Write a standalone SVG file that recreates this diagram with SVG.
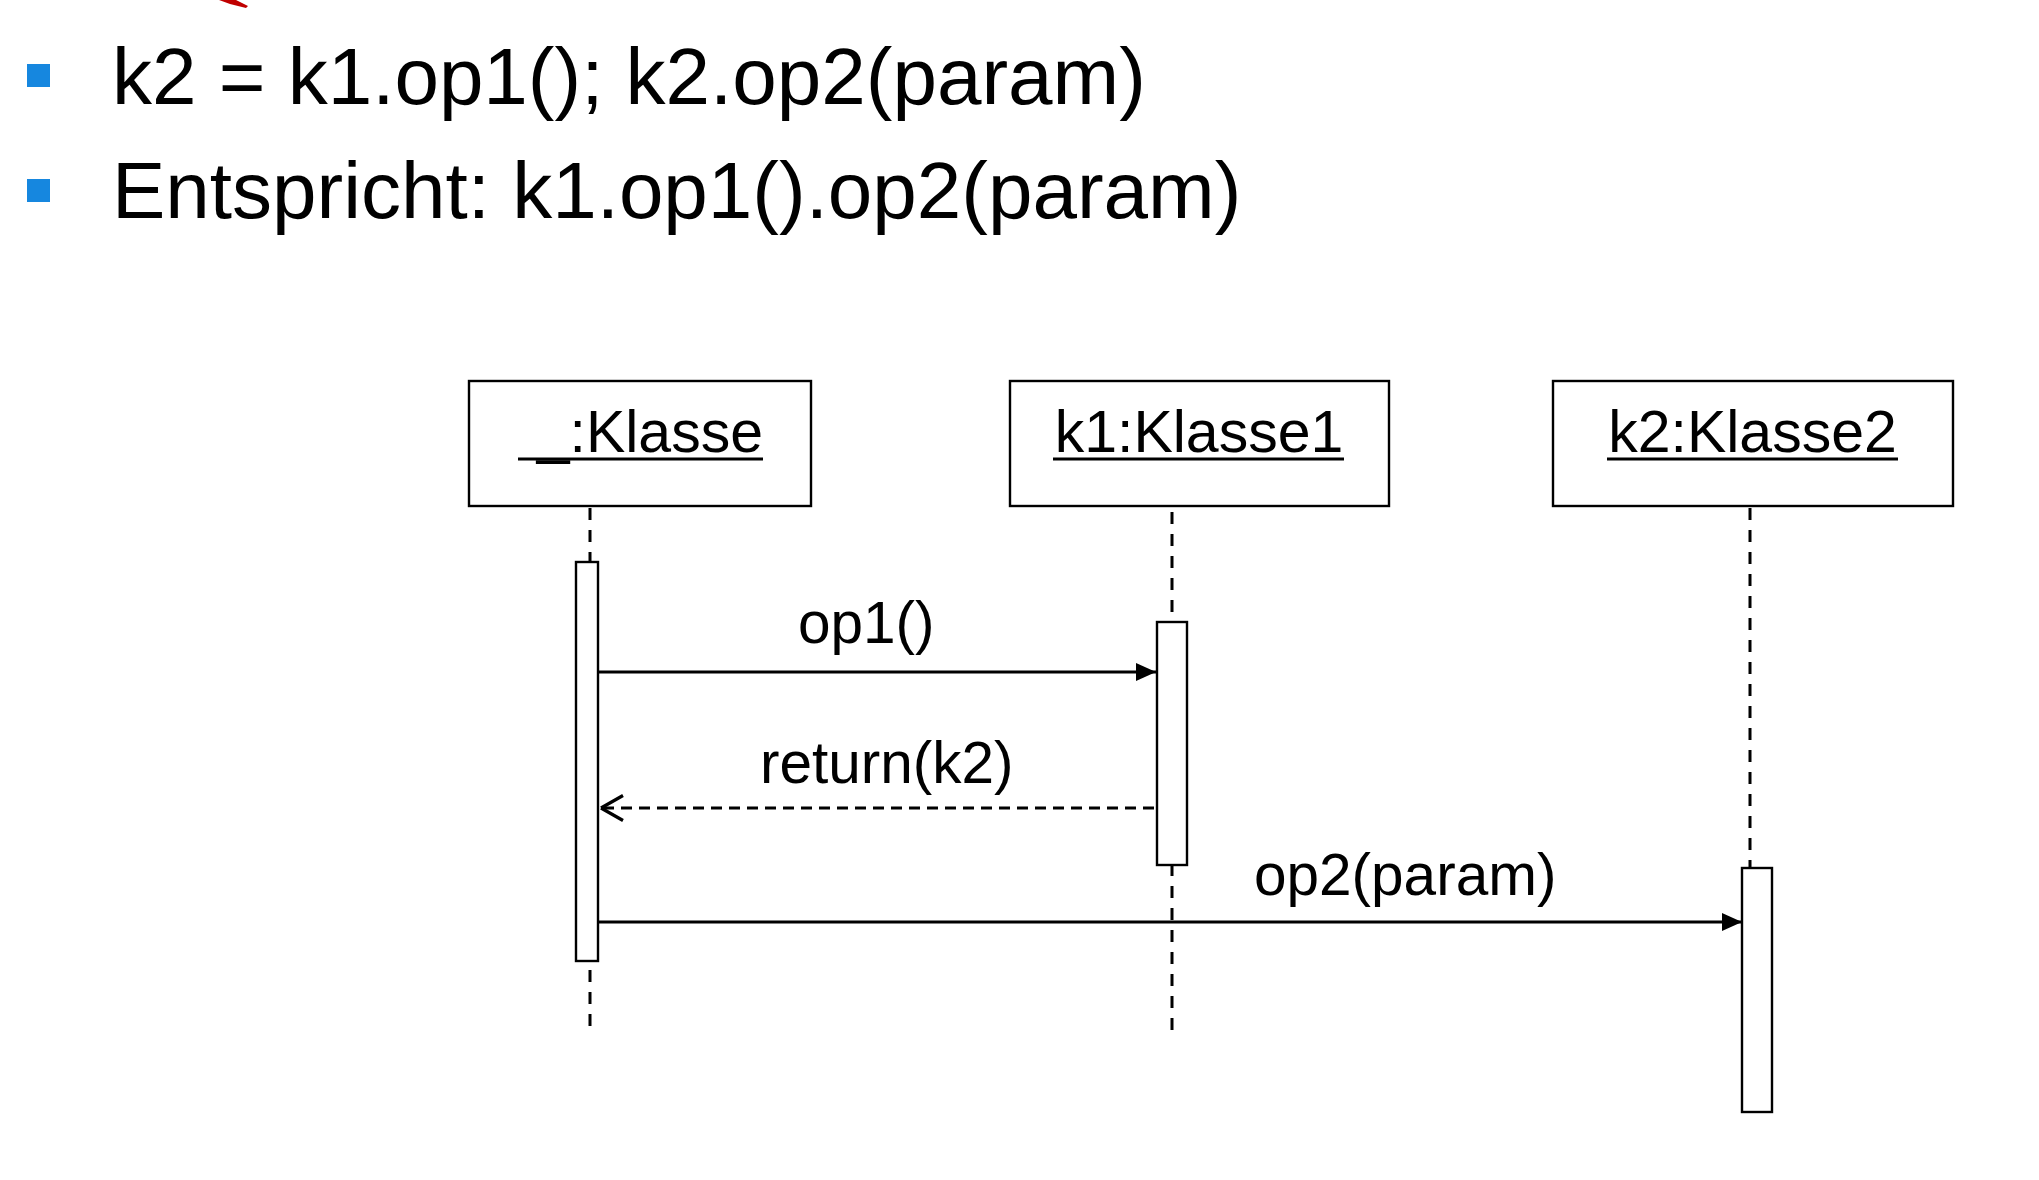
<svg xmlns="http://www.w3.org/2000/svg" width="2039" height="1180" viewBox="0 0 2039 1180">
  <style>
    .title { font-family: "Liberation Sans", Arial, Helvetica, sans-serif; font-size: 80px; fill: #000; }
    .lbl { font-family: "Liberation Sans", Arial, Helvetica, sans-serif; font-size: 59px; fill: #000; }
    .msg { font-family: "Liberation Sans", Arial, Helvetica, sans-serif; font-size: 58.5px; fill: #000; }
    .box { fill: #fff; stroke: #000; stroke-width: 2.4; }
    .act { fill: #fff; stroke: #000; stroke-width: 2.4; }
    .life { stroke: #000; stroke-width: 3; stroke-dasharray: 12 10; fill: none; }
    .uline { stroke: #000; stroke-width: 3; }
    .call { stroke: #000; stroke-width: 3.2; fill: none; }
    .ret { stroke: #000; stroke-width: 3; stroke-dasharray: 11 7; fill: none; }
    .bullet { fill: #1687df; }
  </style>
  <defs>
    <marker id="filled" markerUnits="userSpaceOnUse" markerWidth="22" markerHeight="20" refX="21" refY="10" orient="auto">
      <path d="M1,1 L21,10 L1,19 z" fill="#000"/>
    </marker>
    <marker id="open" markerUnits="userSpaceOnUse" markerWidth="28" markerHeight="30" refX="25" refY="15" orient="auto">
      <path d="M25,15 L3,2.5 M25,15 L3,27.5" stroke="#000" stroke-width="3.2" fill="none"/>
    </marker>
  </defs>
  <rect width="2039" height="1180" fill="#fff"/>

  <!-- cut-off red stroke at top -->
  <path d="M219,0 L236,0 L248,6 L246,8 L230,4 Z" fill="#c00000"/>

  <!-- bullet text -->
  <g id="bullets">
    <rect class="bullet" x="27" y="64" width="23" height="23"/>
    <text class="title" x="112" y="104">k2 = k1.op1(); k2.op2(param)</text>
    <rect class="bullet" x="27" y="179" width="23" height="23"/>
    <text class="title" x="112" y="218">Entspricht: k1.op1().op2(param)</text>
  </g>

  <!-- lifelines -->
  <g id="lifelines">
    <line class="life" x1="590" y1="508" x2="590" y2="1027"/>
    <line class="life" x1="1172" y1="512" x2="1172" y2="1037"/>
    <line class="life" x1="1750" y1="508" x2="1750" y2="868"/>
  </g>

  <g id="node-klasse">
    <rect class="box" x="469" y="381" width="342" height="125"/>
    <text class="lbl" x="763" y="452" text-anchor="end">_:Klasse</text>
    <line class="uline" x1="518" y1="459" x2="763" y2="459"/>
    <rect class="act" x="576" y="562" width="22" height="399"/>
  </g>

  <g id="node-k1">
    <rect class="box" x="1010" y="381" width="379" height="125"/>
    <text class="lbl" x="1199" y="452" text-anchor="middle">k1:Klasse1</text>
    <line class="uline" x1="1053" y1="459" x2="1344" y2="459"/>
    <rect class="act" x="1157" y="622" width="30" height="243"/>
  </g>

  <g id="node-k2">
    <rect class="box" x="1553" y="381" width="400" height="125"/>
    <text class="lbl" x="1752.5" y="452" text-anchor="middle">k2:Klasse2</text>
    <line class="uline" x1="1607" y1="459" x2="1898" y2="459"/>
    <rect class="act" x="1742" y="868" width="30" height="244"/>
  </g>

  <g id="connectors">
    <line class="call" x1="599" y1="672" x2="1156" y2="672" marker-end="url(#filled)"/>
    <text class="msg" x="798" y="643">op1()</text>
    <line class="ret" x1="1154" y1="808" x2="601" y2="808" marker-end="url(#open)"/>
    <text class="msg" x="760" y="783">return(k2)</text>
    <line class="call" x1="599" y1="922" x2="1742" y2="922" marker-end="url(#filled)"/>
    <text class="msg" x="1254" y="895">op2(param)</text>
  </g>
</svg>
